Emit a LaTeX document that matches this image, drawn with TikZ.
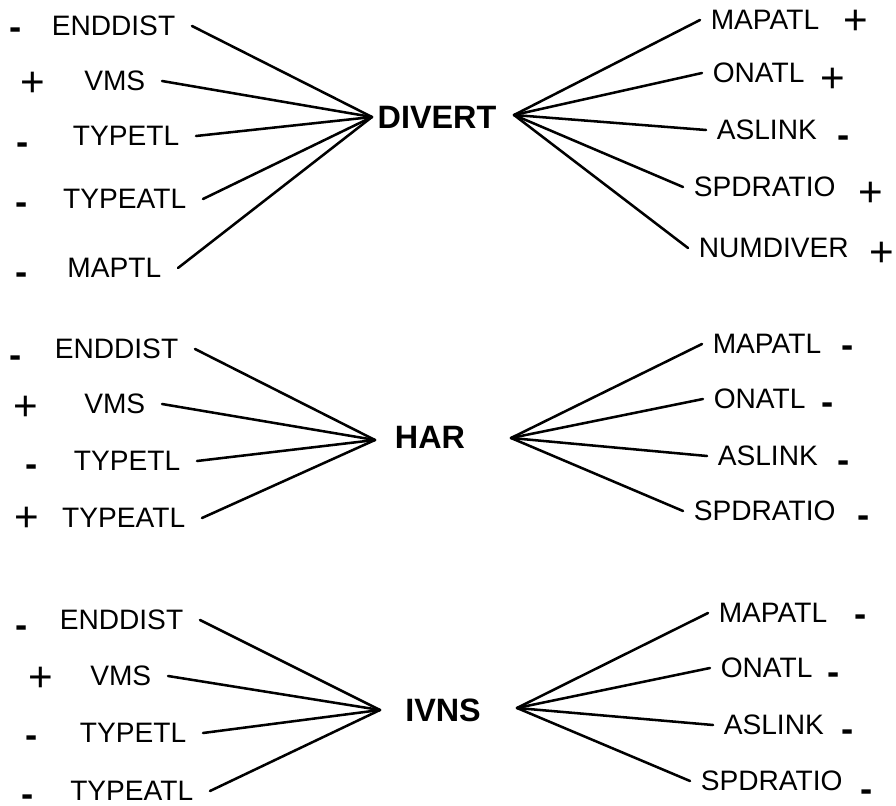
\documentclass[tikz,border=0pt]{standalone}
\usepackage{fontspec}
\setmainfont{Liberation Sans}
\begin{document}
\begin{tikzpicture}[x=0.025cm,y=-0.025cm,
  lab/.style={font=\fontsize{20}{24}\selectfont, inner sep=0pt},
  labL/.style={lab, anchor=east, outer xsep=0.42cm, outer ysep=0pt},
  labR/.style={lab, anchor=west, outer xsep=0.27cm, outer ysep=0pt},
  ctr/.style={font=\fontsize{23}{27}\selectfont\bfseries, inner sep=0pt},
  minus/.style={font=\fontsize{26}{30}\selectfont\bfseries, inner sep=0pt, anchor=center},
  plus/.style={font=\fontsize{30}{34}\selectfont, inner sep=0pt, anchor=base, yshift=-10pt},
  link/.style={line width=1.8pt, line cap=round, line join=round}]
\newcommand{\mysign}{\raisebox{-10.5pt}[2pt][2pt]{-}}
\fill[white] (0,0) rectangle (896,806);
\useasboundingbox (0,0) rectangle (896,806);

% ---------------- DIVERT ----------------
\node[ctr] (divert) at (437,117) {DIVERT};
\coordinate (dL) at (372,117);
\coordinate (dR) at (514,115);

\node[labL] (dl1) at (192,26) {ENDDIST};
\node[labL] (dl2) at (162,81) {VMS};
\node[labL] (dl3) at (196,136) {TYPETL};
\node[labL] (dl4) at (203,199) {TYPEATL};
\node[labL] (dl5) at (178,268) {MAPTL};
\node[minus] (ds1) at (16,25) {\mysign};
\node[plus]  (ds2) at (33,82) {+};
\node[minus] (ds3) at (23,140) {\mysign};
\node[minus] (ds4) at (22,200) {\mysign};
\node[minus] (ds5) at (22,270) {\mysign};

\node[labR] (dr1) at (700,20) {MAPATL};
\node[labR] (dr2) at (702,73) {ONATL};
\node[labR] (dr3) at (706,130) {ASLINK};
\node[labR] (dr4) at (683,187) {SPDRATIO};
\node[labR] (dr5) at (688,248) {NUMDIVER};
\node[plus]  (drs1) at (856,20) {+};
\node[plus]  (drs2) at (833,78) {+};
\node[minus] (drs3) at (844,133) {\mysign};
\node[plus]  (drs4) at (871,192) {+};
\node[plus]  (drs5) at (882,252) {+};

\foreach \n in {dl1,dl2,dl3,dl4,dl5} \draw[link] (\n.east) -- (dL);
\foreach \n in {dr1,dr2,dr3,dr4,dr5} \draw[link] (dR) -- (\n.west);

% ---------------- HAR ----------------
\node[ctr] (har) at (430,437) {HAR};
\coordinate (hL) at (375,440);
\coordinate (hR) at (511,438);

\node[labL] (hl1) at (195,349) {ENDDIST};
\node[labL] (hl2) at (162,404) {VMS};
\node[labL] (hl3) at (197,461) {TYPETL};
\node[labL] (hl4) at (202,518) {TYPEATL};
\node[minus] (hs1) at (16,353) {\mysign};
\node[plus]  (hs2) at (26,406) {+};
\node[minus] (hs3) at (32,462) {\mysign};
\node[plus]  (hs4) at (27,517) {+};

\node[labR] (hr1) at (702,344) {MAPATL};
\node[labR] (hr2) at (703,399) {ONATL};
\node[labR] (hr3) at (707,456) {ASLINK};
\node[labR] (hr4) at (683,511) {SPDRATIO};
\node[minus] (hrs1) at (848,343) {\mysign};
\node[minus] (hrs2) at (828,400) {\mysign};
\node[minus] (hrs3) at (844,458) {\mysign};
\node[minus] (hrs4) at (864,513) {\mysign};

\foreach \n in {hl1,hl2,hl3,hl4} \draw[link] (\n.east) -- (hL);
\foreach \n in {hr1,hr2,hr3,hr4} \draw[link] (hR) -- (\n.west);

% ---------------- IVNS ----------------
\node[ctr] (ivns) at (443,710) {IVNS};
\coordinate (iL) at (380,710);
\coordinate (iR) at (517,708);

\node[labL] (il1) at (200,620) {ENDDIST};
\node[labL] (il2) at (168,676) {VMS};
\node[labL] (il3) at (203,733) {TYPETL};
\node[labL] (il4) at (210,791) {TYPEATL};
\node[minus] (is1) at (22,623) {\mysign};
\node[plus]  (is2) at (41,677) {+};
\node[minus] (is3) at (32,733) {\mysign};
\node[minus] (is4) at (28,792) {\mysign};

\node[labR] (ir1) at (708,613) {MAPATL};
\node[labR] (ir2) at (710,668) {ONATL};
\node[labR] (ir3) at (713,725) {ASLINK};
\node[labR] (ir4) at (690,781) {SPDRATIO};
\node[minus] (irs1) at (861,612) {\mysign};
\node[minus] (irs2) at (834,670) {\mysign};
\node[minus] (irs3) at (848,727) {\mysign};
\node[minus] (irs4) at (867,787) {\mysign};

\foreach \n in {il1,il2,il3,il4} \draw[link] (\n.east) -- (iL);
\foreach \n in {ir1,ir2,ir3,ir4} \draw[link] (iR) -- (\n.west);
\end{tikzpicture}
\end{document}
